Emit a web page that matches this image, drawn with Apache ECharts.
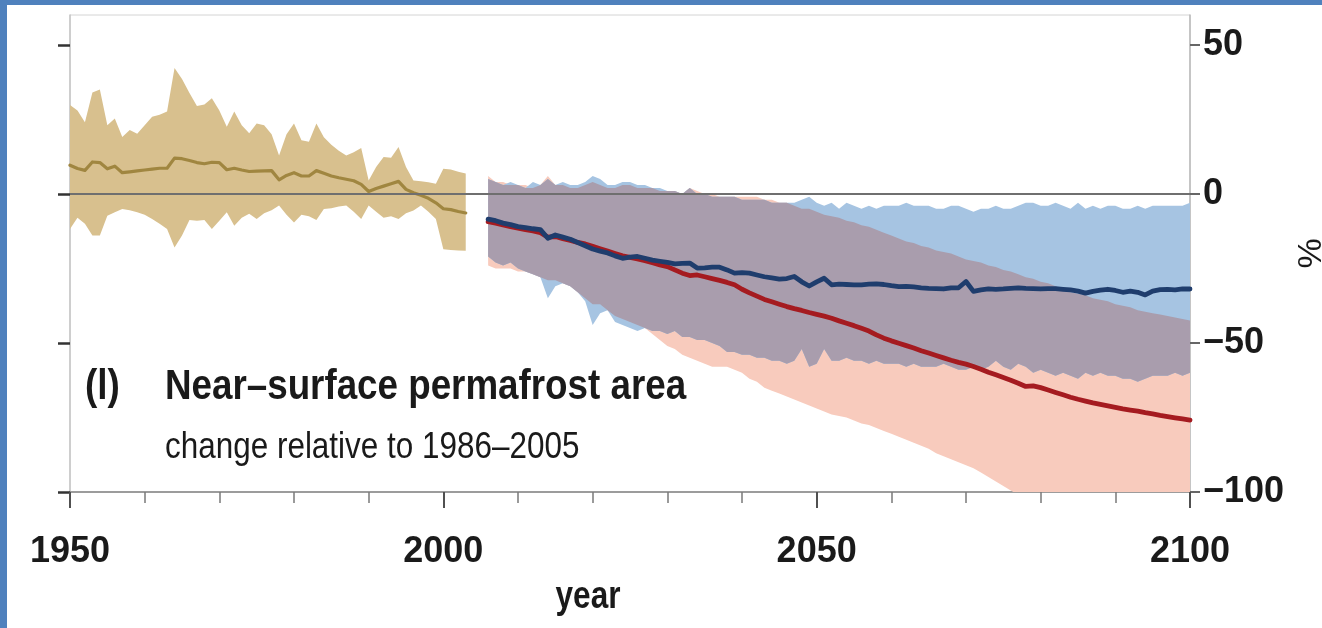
<!DOCTYPE html>
<html>
<head>
<meta charset="utf-8">
<script src="https://cdn.jsdelivr.net/npm/echarts@6/dist/echarts.min.js"></script>
<style>
html,body{margin:0;padding:0;background:#ffffff;}
#c{width:1322px;height:628px;}
</style>
</head>
<body>
<div id="c"></div>
<script>
// ---------------- DATA ----------------
const HIST_START = 1950;
const PROJ_START = 2006;
const xTicks = [1950, 2000, 2050, 2100];
const yTicks = [-100, -50, 0, 50];

// Historical (1950-2003): multi-model mean and range, % change relative to 1986-2005
const histMean = [
  9.6, 8.5, 7.9, 10.7, 10.5, 8.4, 9.3, 7.1, 7.4, 7.7,
  8.0, 8.3, 8.6, 8.6, 12.0, 11.8, 11.2, 10.5, 10.1, 10.6,
  10.5, 8.1, 8.6, 8.0, 7.5, 7.6, 7.7, 7.8, 4.7, 6.2,
  7.1, 6.0, 6.0, 7.8, 6.9, 6.0, 5.4, 4.9, 4.4, 3.2,
  0.8, 1.8, 2.6, 3.4, 4.2, 1.5, 0.4, -0.5, -1.5, -3.0,
  -5.0, -5.3, -5.9, -6.4
];
const histHigh = [
  29.8, 28, 24, 34, 35, 23, 25.3, 19.1, 21.4, 20.2,
  23, 25.9, 26.5, 27.6, 42.2, 38.5, 33.8, 29.5, 30, 32.1,
  28, 22.5, 27.6, 23, 20.3, 23.6, 23, 20, 12.9, 20,
  23.6, 18, 17.5, 23.6, 19, 16.5, 14.5, 12.9, 14, 15.4,
  4.5, 9, 12.4, 12.1, 15.7, 9, 4.5, 4.2, 3.9, 3.4,
  8.4, 8.2, 7.4, 6.8
];
const histLow = [
  -11.8, -8, -10, -14, -14, -7.3, -6.2, -5.1, -5.5, -6.2,
  -7, -8.4, -10, -11.8, -18, -14, -8.8, -9, -8.8, -11.8,
  -9, -6.2, -10.7, -8, -6.7, -8.4, -6.5, -5.5, -3.9, -7,
  -9.6, -7, -7.5, -8.8, -5.1, -4.8, -4.2, -3.9, -6, -8.4,
  -3.9, -6, -8, -7.5, -8.4, -6.5, -5.6, -3.9, -6, -8.4,
  -18.6, -18.8, -19, -19.1
];

// RCP2.6 (2006-2100)
const rcp26Mean = [
  -8.5, -9, -9.8, -10.3, -11, -11.3, -11.7, -12, -14.9, -13.8,
  -14.5, -15.2, -16.3, -17.4, -18.5, -19.2, -19.8, -20.8, -21.6, -21.2,
  -21, -21.6, -22.2, -22.6, -23, -23.5, -23.3, -23.2, -24.9, -24.8,
  -24.6, -24.6, -25.5, -26.6, -26.4, -26.6, -27.2, -27.8, -28.2, -28.6,
  -28.4, -27.7, -29.5, -30.9, -29.5, -28.3, -30.5, -30.3, -30.4, -30.5,
  -30.5, -30.3, -30.2, -30.4, -30.8, -31.1, -31, -31.2, -31.5, -31.7,
  -31.8, -31.9, -31.5, -31.5, -29.4, -32.7, -32.2, -31.9, -32, -31.9,
  -31.7, -31.5, -31.7, -31.8, -31.9, -31.8, -31.8, -32, -32.2, -32.6,
  -33.3, -32.7, -32.3, -32, -32.4, -33, -32.6, -33, -33.9, -32.6,
  -32.1, -32, -32.2, -31.9, -31.9
];
const rcp26High = [
  5, 4, 3, 4, 3, 2, 4, 3, 5, 3,
  4, 3, 3, 4, 6, 5, 3, 3, 4, 4,
  3, 3, 2, 2, 1, 1, 0, 2, 0, 0,
  -1, -1, -1, -1, -2, -2, -2, -2, -3, -3,
  -3, -3, -2, -1, -3, -4, -3, -5, -3, -4,
  -5, -4, -5, -4, -4, -4, -3, -4, -4, -4,
  -5, -5, -4, -4, -5, -6, -5, -5, -4, -5,
  -5, -4, -3, -3, -4, -4, -3, -4, -5, -3,
  -5, -4, -5, -4, -4, -5, -5, -4, -5, -4,
  -4, -4, -4, -4, -3
];
const rcp26Low = [
  -21, -23, -24, -23, -25, -26, -27, -28, -35, -31,
  -30, -31, -33, -36, -44, -40, -39, -43, -44, -45,
  -46, -45, -46, -46, -47, -46, -48, -48, -49, -49,
  -50, -51, -53, -53, -54, -54, -55, -55, -56, -56,
  -57, -56, -52, -58, -57, -52, -56, -56, -55, -56,
  -56, -57, -56, -57, -57, -57, -58, -57, -58, -58,
  -58, -57, -58, -59, -59, -58, -59, -58, -56, -58,
  -59, -57, -58, -60, -59, -60, -61, -60, -61, -62,
  -60, -61, -60, -61, -61, -62, -62, -63, -62, -61,
  -61, -61, -60, -61, -60
];

// RCP8.5 (2006-2100)
const rcp85Mean = [
  -9.3, -9.8, -10.4, -11, -11.5, -12, -12.4, -13, -14.5, -14.3,
  -15, -15.6, -16.3, -16.8, -17.6, -18.4, -19.2, -20, -20.8, -21.3,
  -21.8, -22.4, -23.1, -23.8, -24.4, -25.5, -26.6, -27.4, -27.2, -27.8,
  -28.4, -29, -29.7, -30.5, -32, -33.2, -34.3, -35.4, -36.2, -37,
  -37.8, -38.5, -39.1, -39.8, -40.4, -41, -41.7, -42.6, -43.4, -44.2,
  -45.1, -46, -47.3, -48.4, -49.3, -50.1, -50.9, -51.7, -52.6, -53.4,
  -54.2, -55, -55.8, -56.5, -57.1, -57.9, -58.8, -59.8, -60.7, -61.6,
  -62.5, -63.5, -64.6, -64.4, -65, -65.8, -66.6, -67.4, -68.2, -68.9,
  -69.5, -70.1, -70.6, -71.1, -71.6, -72.1, -72.5, -72.9, -73.4, -73.8,
  -74.3, -74.7, -75.1, -75.5, -75.9
];
const rcp85High = [
  6, 4, 4, 3, 3, 3, 2, 3, 6, 3,
  3, 2, 2, 3, 4, 3, 2, 2, 3, 3,
  2, 2, 2, 1, 1, 1, 0, 2, 1, 0,
  0, -1, -1, -1, -1, -1, -1, -2, -2, -3,
  -3, -4, -5, -5, -6, -7, -7.5, -8, -9, -9.5,
  -10.5, -11, -12, -13, -14, -15, -16, -16.5, -17.5, -18,
  -19, -19.5, -20, -21, -22, -22.5, -23, -24, -24.5, -25.5,
  -26, -27, -28, -28.5, -29.5, -30, -31, -32, -33, -33.5,
  -34, -35, -35.5, -36, -37, -37.5, -38, -39, -39.5, -40,
  -40.5, -41, -41.5, -42, -42.5
];
const rcp85Low = [
  -24, -25, -25, -25, -26, -26, -27, -28, -29, -29,
  -30, -31, -33, -35, -37, -37, -39, -41, -42, -43,
  -44, -45, -47, -49, -51, -52, -54, -55, -56, -57,
  -58, -58, -58, -59, -60, -62, -63, -65, -66, -67,
  -68, -69, -70, -71, -72, -73, -74, -74.5, -75, -76,
  -77, -77.5, -78.5, -79.5, -80.5, -81.5, -82.5, -83.5, -84.5, -85.5,
  -87, -88, -89, -90, -91, -92, -93.5, -95, -96.5, -98,
  -99.5, -101, -102, -103, -104, -105, -106, -107, -108, -109,
  -110, -111, -112, -113, -114, -115, -116, -117, -118, -119,
  -120, -121, -122, -123, -124
];

// ---------------- BUILD ----------------
const FONT = "'Liberation Sans', Arial, sans-serif";
const TXT = '#1a1a1a';

function yearsFrom(start, n) { const a = []; for (let i = 0; i < n; i++) a.push(start + i); return a; }
const histYears = yearsFrom(HIST_START, histMean.length);
const projYears = yearsFrom(PROJ_START, rcp26Mean.length);
function pairs(xs, ys) { return xs.map((x, i) => [x, ys[i]]); }

// overlap of the two scenario ranges
const overlapLow = rcp26Low.map((v, i) => Math.max(v, rcp85Low[i]));
const overlapHigh = rcp26High.map((v, i) => Math.min(v, rcp85High[i]));

// a shaded range: one polygon through the series' own data, placed with api.coord
function band(name, xs, low, high, color) {
  return {
    type: 'custom', name: name, silent: true, clip: true, z: 2,
    data: xs.map((x, i) => [x, low[i], high[i]]),
    encode: { x: 0, y: [1, 2] },
    renderItem: function (params, api) {
      if (params.dataIndexInside !== 0) return null;
      const n = params.dataInsideLength;
      const pts = [];
      for (let i = 0; i < n; i++) pts.push(api.coord([api.value(0, i), api.value(2, i)]));
      for (let i = n - 1; i >= 0; i--) pts.push(api.coord([api.value(0, i), api.value(1, i)]));
      return { type: 'polygon', shape: { points: pts }, style: { fill: color, stroke: null } };
    }
  };
}
function meanLine(name, xs, ys, color, width, extra) {
  return Object.assign({
    type: 'line', name: name, data: pairs(xs, ys), symbol: 'none', silent: true,
    lineStyle: { color: color, width: width, join: 'round', cap: 'round' }, z: 3
  }, extra || {});
}

const series = [
  band('historical range', histYears, histLow, histHigh, '#d8c08e'),
  band('RCP8.5 range', projYears, rcp85Low, rcp85High, '#f8cbbd'),
  band('RCP2.6 range', projYears, rcp26Low, rcp26High, '#a6c4e2'),
  band('overlap', projYears, overlapLow, overlapHigh, '#a99dad'),
  meanLine('historical mean', histYears, histMean, '#a08640', 3.2, {
    markLine: {
      silent: true, symbol: 'none', label: { show: false },
      lineStyle: { color: '#6f6f6f', width: 2, type: 'solid' },
      data: [{ yAxis: 0 }]
    }
  }),
  meanLine('RCP8.5 mean', projYears, rcp85Mean, '#a51b20', 4.8),
  meanLine('RCP2.6 mean', projYears, rcp26Mean, '#1f3d6d', 4.8)
];

const labelStyle = { fontFamily: FONT, fontSize: 36, fontWeight: 'bold', color: TXT };

const option = {
  animation: false,
  backgroundColor: '#ffffff',
  grid: {
    left: 70, right: 132, top: 15, bottom: 136,
    containLabel: false, outerBoundsMode: 'none',
    show: true, borderColor: '#d4d4d4', borderWidth: 1
  },
  xAxis: {
    type: 'value', min: 1950, max: 2100, interval: 50,
    axisLine: { show: true, onZero: false, lineStyle: { color: '#9c9c9c', width: 2 } },
    axisTick: { show: true, length: 16, customValues: xTicks, lineStyle: { color: '#505050', width: 2 } },
    minorTick: { show: true, splitNumber: 5, length: 11, lineStyle: { color: '#7a7a7a', width: 1.5 } },
    axisLabel: Object.assign({ margin: 42, customValues: xTicks, formatter: v => String(v) }, labelStyle),
    splitLine: { show: false }
  },
  yAxis: [
    {
      type: 'value', position: 'right', min: -100, max: 60, interval: 50,
      axisLine: { show: true, onZero: false, lineStyle: { color: '#b8b8b8', width: 1.5 } },
      axisTick: { show: true, length: 10, customValues: yTicks, lineStyle: { color: '#666666', width: 2 } },
      axisLabel: Object.assign({
        margin: 13, customValues: yTicks,
        formatter: v => String(v).replace('-', '\u2212')
      }, labelStyle),
      splitLine: { show: false },
      name: '%', nameLocation: 'middle', nameGap: 100, nameRotate: 90,
      nameTextStyle: { fontFamily: FONT, fontSize: 34, color: TXT }
    },
    {
      type: 'value', position: 'left', min: -100, max: 60, interval: 50,
      axisLine: { show: true, onZero: false, lineStyle: { color: '#c4c4c4', width: 1.5 } },
      axisTick: { show: true, length: 12, customValues: yTicks, lineStyle: { color: '#333333', width: 2.5 } },
      axisLabel: { show: false },
      splitLine: { show: false }
    }
  ],
  graphic: [
    { type: 'rect', left: 0, top: 0, z: 100, shape: { width: 1322, height: 5 }, style: { fill: '#4f81bd' } },
    { type: 'rect', left: 0, top: 0, z: 100, shape: { width: 7, height: 628 }, style: { fill: '#4f81bd' } },
    { type: 'text', x: 85, y: 387, scaleX: 0.86, z: 100, style: { text: '(l)', font: 'bold 43px ' + FONT, fill: TXT, verticalAlign: 'middle', textVerticalAlign: 'middle' } },
    { type: 'text', x: 165, y: 387, scaleX: 0.855, z: 100, style: { text: 'Near\u2013surface permafrost area', font: 'bold 43px ' + FONT, fill: TXT, verticalAlign: 'middle', textVerticalAlign: 'middle' } },
    { type: 'text', x: 165, y: 448, scaleX: 0.85, z: 100, style: { text: 'change relative to 1986\u20132005', font: '37px ' + FONT, fill: TXT, verticalAlign: 'middle', textVerticalAlign: 'middle' } },
    { type: 'text', x: 588, y: 598, scaleX: 0.83, z: 100, style: { text: 'year', font: 'bold 38px ' + FONT, fill: TXT, align: 'center', textAlign: 'center', verticalAlign: 'middle', textVerticalAlign: 'middle' } }
  ],
  series: series
};

const chart = echarts.init(document.getElementById('c'), null, { renderer: 'canvas' });
chart.setOption(option);
</script>
</body>
</html>
